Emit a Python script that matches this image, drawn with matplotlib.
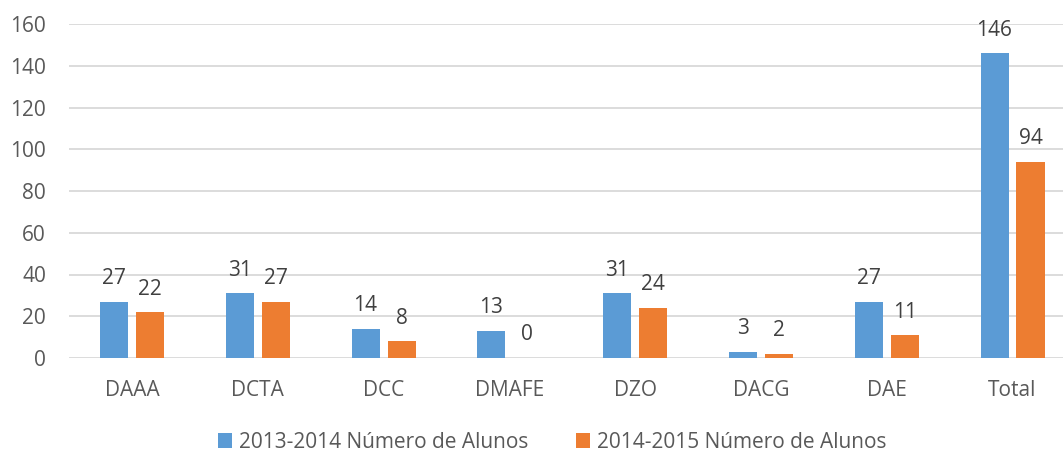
import matplotlib
matplotlib.use("Agg")
import matplotlib.pyplot as plt
from matplotlib.patches import Patch
import numpy as np

categories = ["DAAA", "DCTA", "DCC", "DMAFE", "DZO", "DACG", "DAE", "Total"]
series_names = ["2013-2014 Número de Alunos", "2014-2015 Número de Alunos"]
values_2013 = [27, 31, 14, 13, 31, 3, 27, 146]
values_2014 = [22, 27, 8, 0, 24, 2, 11, 94]
yticks = [0, 20, 40, 60, 80, 100, 120, 140, 160]

blue = "#5B9BD5"
orange = "#ED7D31"
tick_color = "#595959"
label_color = "#404040"
grid_color = "#D9D9D9"

plt.rcParams["font.family"] = ["Open Sans", "DejaVu Sans"]
fs = 15

W, H = 1063, 453
fig = plt.figure(figsize=(W / 100, H / 100), dpi=100)
left_px, zero_px, top_px = 69, 358, 24
cat_px = 125.8
ax = fig.add_axes([left_px / W, (H - zero_px) / H, (W - left_px) / W, (zero_px - top_px) / H])

x = np.arange(len(categories))
bw = 28 / cat_px
off = 18 / cat_px
b1 = ax.bar(x - off, values_2013, bw, color=blue, zorder=3)
b2 = ax.bar(x + off, values_2014, bw, color=orange, zorder=3)
for b in (b1, b2):
    ax.bar_label(b, padding=9, fontsize=fs, color=label_color)

ax.set_xlim(-0.5, -0.5 + (W - left_px) / cat_px)
ax.set_ylim(0, 160)
ax.set_yticks(yticks)
ax.set_xticks(x)
ax.set_xticklabels(categories)
ax.tick_params(axis="both", length=0, labelsize=fs, labelcolor=tick_color)
ax.tick_params(axis="y", pad=16.5)
ax.tick_params(axis="x", pad=16)
ax.yaxis.grid(True, color=grid_color, linewidth=1.3, zorder=0)
ax.set_axisbelow(True)
for s in ax.spines.values():
    s.set_visible(False)

handles = [Patch(facecolor=blue), Patch(facecolor=orange)]
leg = fig.legend(handles, series_names, loc="center", bbox_to_anchor=(552 / W, (H - 442) / H),
                 ncol=2, frameon=False, fontsize=fs, handlelength=0.7, handleheight=0.7,
                 handletextpad=0.3, columnspacing=2.3, borderpad=0, borderaxespad=0)
for t in leg.get_texts():
    t.set_color(tick_color)

fig.savefig("out.png", dpi=100)
